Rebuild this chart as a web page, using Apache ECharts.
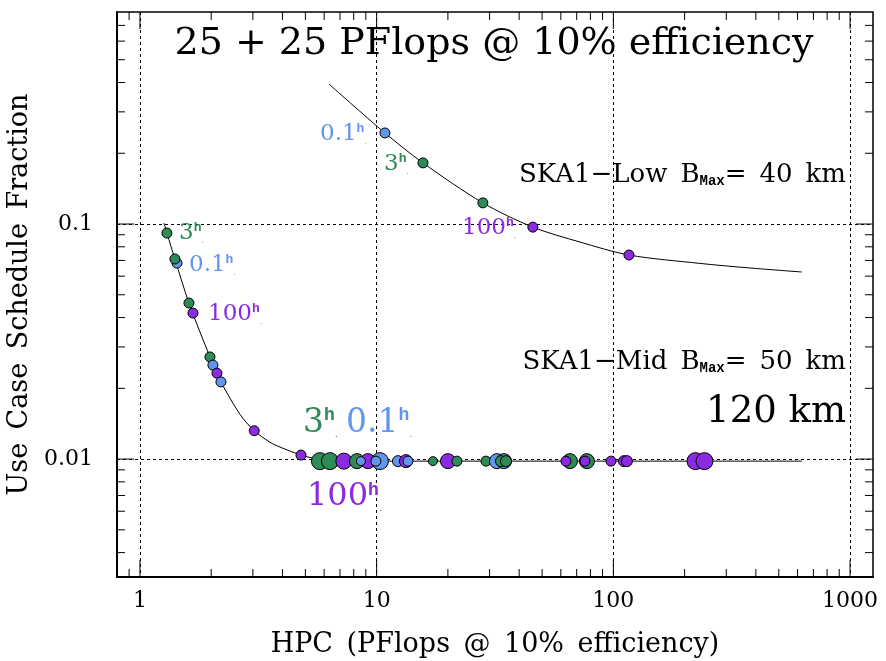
<!DOCTYPE html>
<html>
<head>
<meta charset="utf-8">
<script src="https://cdn.jsdelivr.net/npm/echarts@6/dist/echarts.min.js"></script>
<style>
  html, body { margin: 0; padding: 0; background: #fff; }
  #chart { width: 886px; height: 661px; }
</style>
</head>
<body>
<div id="chart"></div>
<script>
  // axis ticks
  const xTickValues = [1, 10, 100, 1000];
  const xTickLabels = ['1', '10', '100', '1000'];
  const yTickValues = [0.01, 0.1];
  const yTickLabels = ['0.01', '0.1'];
  const xMinorTicks = [0.9, 2, 3, 4, 5, 6, 7, 8, 9, 20, 30, 40, 50, 60, 70, 80, 90,
    200, 300, 400, 500, 600, 700, 800, 900];
  const yMinorTicks = [0.004, 0.005, 0.006, 0.007, 0.008, 0.009,
    0.02, 0.03, 0.04, 0.05, 0.06, 0.07, 0.08, 0.09, 0.2, 0.3, 0.4, 0.5, 0.6, 0.7];

  // SKA1-Low, Bmax 40 km
  const lowCurve = [[6.29, 0.394], [10.84, 0.244], [15.69, 0.182], [28.1, 0.123],
    [45.7, 0.097], [72.3, 0.0838], [116.4, 0.0738], [232, 0.068], [378, 0.065], [626, 0.0625]];
  const lowPoints = [
    [10.84, 0.244, 10, '0.1h'], [15.69, 0.182, 10, '3h'], [28.1, 0.123, 10, '3h'],
    [45.7, 0.097, 10, '100h'], [116.4, 0.0738, 10, '100h']
  ];

  // SKA1-Mid, Bmax 50 km (steep part) and 120 km (flat part)
  const midCurve = [[1.263, 0.101], [1.30, 0.0915], [1.405, 0.071], [1.611, 0.0461], [1.976, 0.0272],
    [2.199, 0.0213], [2.646, 0.0155], [3.04, 0.0132], [3.54, 0.0118], [3.905, 0.01125],
    [4.79, 0.0104], [5.38, 0.0101], [6.35, 0.0099], [12.5, 0.0098], [626, 0.0098]];
  const midPoints = [
    [1.300, 0.0915, 10, '3h'], [1.434, 0.0682, 10, '0.1h'], [1.405, 0.0710, 10, '3h'],
    [1.611, 0.0461, 10, '3h'], [1.675, 0.0418, 10, '100h'], [1.976, 0.0272, 10, '3h'],
    [2.034, 0.0251, 10, '0.1h'], [2.115, 0.0232, 10, '100h'], [2.199, 0.0213, 10, '0.1h'],
    [3.04, 0.0132, 10, '100h'], [4.79, 0.0104, 10, '100h']
  ];
  const farPoints = [
    [5.76, 0.0098, 17, '3h'], [6.35, 0.0098, 17, '3h'], [7.27, 0.0098, 16, '100h'],
    [8.26, 0.0098, 15, '3h'], [9.19, 0.0098, 15, '100h'], [8.58, 0.0098, 9, '0.1h'],
    [10.32, 0.0098, 17, '0.1h'], [9.93, 0.0098, 10, '0.1h'], [12.30, 0.0098, 11, '0.1h'],
    [13.30, 0.0098, 13, '100h'], [13.56, 0.0098, 10, '0.1h'], [17.29, 0.0098, 9, '3h'],
    [20.01, 0.0098, 15, '100h'], [21.84, 0.0098, 10, '3h'], [28.96, 0.0098, 10, '3h'],
    [32.23, 0.0098, 15, '0.1h'], [34.50, 0.0098, 15, '0.1h'], [33.50, 0.0098, 11, '3h'],
    [35.18, 0.0098, 11, '3h'], [65.56, 0.0098, 15, '3h'], [77.33, 0.0098, 15, '3h'],
    [63.06, 0.0098, 10, '100h'], [75.86, 0.0098, 10, '100h'], [97.7, 0.0098, 10, '100h'],
    [110.9, 0.0098, 11, '100h'], [114.1, 0.0098, 11, '100h'], [222.3, 0.0098, 17, '100h'],
    [242.6, 0.0098, 17, '100h']
  ];

  const caseColours = { '0.1h': '#6495ed', '3h': '#2e8b57', '100h': '#8a2be2' };
  const serif = 'DejaVu Serif';
  const mono = 'Liberation Mono';
  const sp = '\u2002';

  const chart = echarts.init(document.getElementById('chart'));

  function pointData(list) {
    return list.map(p => ({
      value: [p[0], p[1], p[2]],
      itemStyle: { color: caseColours[p[3]] }
    }));
  }

  function tickData(major, minor, along) {
    const rows = [];
    major.forEach(v => rows.push(along === 'x' ? [v, 0.01, 1] : [1, v, 1]));
    minor.forEach(v => rows.push(along === 'x' ? [v, 0.01, 0] : [1, v, 0]));
    return rows;
  }

  function renderTick(along) {
    return function (params, api) {
      const cs = params.coordSys;
      const len = api.value(2) === 1 ? 17 : 8;
      const style = { stroke: '#000', lineWidth: 1 };
      if (along === 'x') {
        const px = api.coord([api.value(0), api.value(1)])[0];
        const b = cs.y + cs.height;
        return { type: 'group', children: [
          { type: 'line', shape: { x1: px, y1: b, x2: px, y2: b - len }, style: style },
          { type: 'line', shape: { x1: px, y1: cs.y, x2: px, y2: cs.y + len }, style: style }
        ] };
      }
      const py = api.coord([api.value(0), api.value(1)])[1];
      const r = cs.x + cs.width;
      return { type: 'group', children: [
        { type: 'line', shape: { x1: cs.x, y1: py, x2: cs.x + len, y2: py }, style: style },
        { type: 'line', shape: { x1: r, y1: py, x2: r - len, y2: py }, style: style }
      ] };
    };
  }

  // a case label such as 3^h
  function caseLabel(num, kase, size, x, y) {
    const c = caseColours[kase];
    const hs = Math.round(size * 0.55);
    return {
      type: 'text', x: x, y: y, z: 100,
      style: {
        text: '{n|' + num + '}{h|h}{d|.}',
        align: 'left', verticalAlign: 'middle',
        rich: {
          n: { fontFamily: serif, fontSize: size, lineHeight: size, fill: c },
          h: { fontFamily: mono, fontWeight: 'bold', fontSize: hs, lineHeight: hs, verticalAlign: 'top', fill: c },
          d: { fontFamily: serif, fontSize: Math.round(size * 0.3), lineHeight: 6, verticalAlign: 'bottom', fill: c }
        }
      }
    };
  }

  function skaLabel(name, dist, y) {
    return {
      type: 'text', x: 846, y: y, z: 100,
      style: {
        text: '{t|' + name + sp + 'B}{s|Max}{t|=' + sp + dist + sp + 'km}',
        align: 'right', verticalAlign: 'middle',
        rich: {
          t: { fontFamily: serif, fontSize: 26, lineHeight: 26, fill: '#000' },
          s: { fontFamily: mono, fontWeight: 'bold', fontSize: 14, lineHeight: 8, verticalAlign: 'bottom', fill: '#000' }
        }
      }
    };
  }

  chart.setOption({
    animation: false,
    grid: {
      left: 117, top: 12, right: 13, bottom: 84,
      outerBoundsMode: 'none',
      show: true, borderColor: '#000', borderWidth: 1.5
    },
    xAxis: {
      type: 'log', min: 0.8, max: 1250,
      name: ['HPC', '(PFlops', '@', '10%', 'efficiency)'].join(sp),
      nameLocation: 'middle', nameGap: 54,
      nameTextStyle: { fontFamily: serif, fontSize: 27, color: '#000' },
      axisLine: { show: true, lineStyle: { color: '#000', width: 2 } },
      axisTick: { show: false },
      axisLabel: {
        margin: 13, fontFamily: serif, fontSize: 22, color: '#000',
        showMinLabel: false, showMaxLabel: false,
        formatter: v => {
          const i = xTickValues.findIndex(t => Math.abs(t - v) / t < 1e-6);
          return i < 0 ? '' : xTickLabels[i];
        }
      },
      splitLine: { show: true, showMinLine: false, showMaxLine: false,
        lineStyle: { color: '#000', width: 1, type: [3, 3] } }
    },
    yAxis: {
      type: 'log', min: 0.00315, max: 0.798,
      name: ['Use', 'Case', 'Schedule', 'Fraction'].join(sp),
      nameLocation: 'middle', nameGap: 79,
      nameTextStyle: { fontFamily: serif, fontSize: 27, color: '#000' },
      axisLine: { show: true, lineStyle: { color: '#000', width: 2 } },
      axisTick: { show: false },
      axisLabel: {
        margin: 24, fontFamily: serif, fontSize: 22, color: '#000',
        showMinLabel: false, showMaxLabel: false,
        formatter: v => {
          const i = yTickValues.findIndex(t => Math.abs(t - v) / t < 1e-6);
          return i < 0 ? '' : yTickLabels[i];
        }
      },
      splitLine: { show: true, showMinLine: false, showMaxLine: false,
        lineStyle: { color: '#000', width: 1, type: [3, 3] } }
    },
    series: [
      { type: 'custom', silent: true, renderItem: renderTick('x'), encode: { x: 0, y: 1 },
        data: tickData(xTickValues, xMinorTicks, 'x'), clip: false, z: 1 },
      { type: 'custom', silent: true, renderItem: renderTick('y'), encode: { x: 0, y: 1 },
        data: tickData(yTickValues, yMinorTicks, 'y'), clip: false, z: 1 },
      { type: 'line', data: lowCurve, smooth: 0.3, symbol: 'none', silent: true,
        lineStyle: { color: '#000', width: 1 }, z: 2 },
      { type: 'line', data: midCurve, smooth: 0.3, symbol: 'none', silent: true,
        lineStyle: { color: '#000', width: 1 }, z: 2 },
      { type: 'scatter', data: pointData(lowPoints.concat(midPoints, farPoints)),
        symbolSize: v => v[2], silent: true,
        itemStyle: { borderColor: '#000', borderWidth: 1, opacity: 1 }, z: 3 }
    ],
    graphic: [
      { type: 'text', x: 494, y: 44, z: 100,
        style: { text: '25 + 25 PFlops @ 10% efficiency', font: '38px "DejaVu Serif"',
          fill: '#000', align: 'center', verticalAlign: 'middle' } },
      skaLabel('SKA1\u2212Low', '40', 175),
      skaLabel('SKA1\u2212Mid', '50', 362),
      { type: 'text', x: 846, y: 412, z: 100,
        style: { text: '120 km', font: '37px "DejaVu Serif"', fill: '#000',
          align: 'right', verticalAlign: 'middle' } },
      caseLabel('0.1', '0.1h', 23, 320, 134),
      caseLabel('3', '3h', 23, 384, 164),
      caseLabel('100', '100h', 23, 462, 228),
      caseLabel('3', '3h', 23, 179, 233),
      caseLabel('0.1', '0.1h', 23, 189, 265),
      caseLabel('100', '100h', 23, 208, 314),
      caseLabel('3', '3h', 33, 303, 423),
      caseLabel('0.1', '0.1h', 33, 346, 423),
      caseLabel('100', '100h', 32, 307, 497)
    ]
  });
</script>
</body>
</html>
